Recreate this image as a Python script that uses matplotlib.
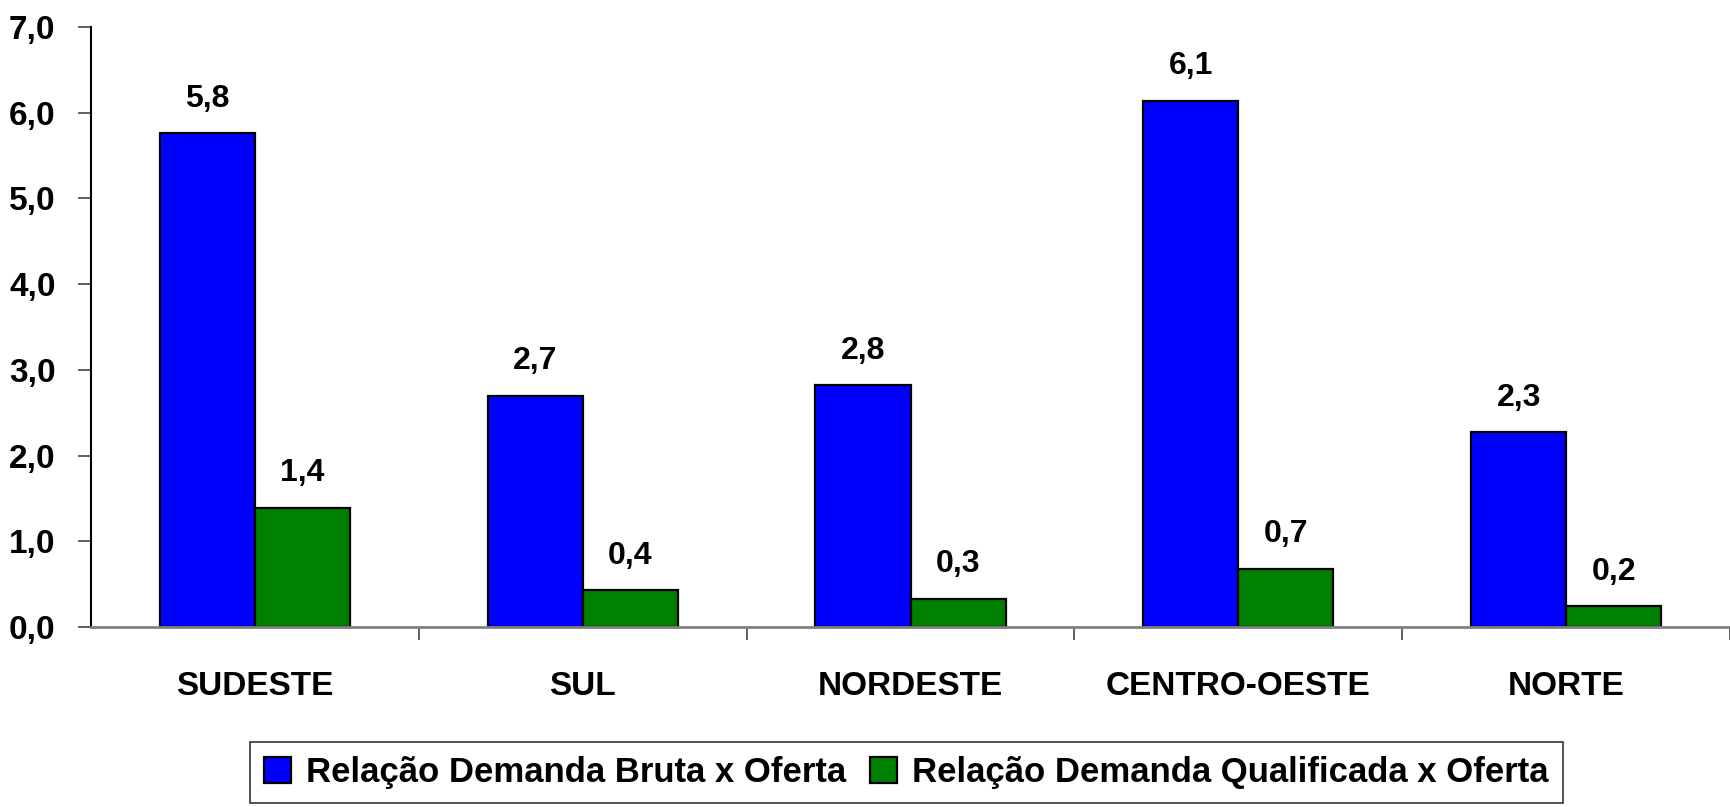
import matplotlib
matplotlib.use("Agg")
import matplotlib.pyplot as plt
import numpy as np

regioes = ["SUDESTE", "SUL", "NORDESTE", "CENTRO-OESTE", "NORTE"]
demanda_bruta = [5.76, 2.70, 2.82, 6.14, 2.27]
demanda_qualificada = [1.39, 0.43, 0.33, 0.68, 0.24]
serie_nomes = ["Relação Demanda Bruta x Oferta", "Relação Demanda Qualificada x Oferta"]
y_ticks = [0, 1, 2, 3, 4, 5, 6, 7]

plt.rcParams['font.family'] = ['Liberation Sans Narrow', 'Liberation Sans', 'DejaVu Sans']
plt.rcParams['font.weight'] = 'bold'


def fmt(v):
    return f"{v:.1f}".replace(".", ",")


fig = plt.figure(figsize=(17.3, 8.07), dpi=100)
ax = fig.add_axes([91 / 1730, 180 / 807, 1 - 91 / 1730, (627 - 27) / 807])

x = np.arange(len(regioes))
w = 0.29
b1 = ax.bar(x - w / 2, demanda_bruta, w, color="#0000FF", edgecolor="black", linewidth=1.6,
            label=serie_nomes[0])
b2 = ax.bar(x + w / 2, demanda_qualificada, w, color="#008000", edgecolor="black", linewidth=1.6,
            label=serie_nomes[1])

for bars, vals in ((b1, demanda_bruta), (b2, demanda_qualificada)):
    for r, v in zip(bars, vals):
        ax.annotate(fmt(v), (r.get_x() + r.get_width() / 2, v), xytext=(0, 19),
                    textcoords="offset points", ha="center", va="baseline",
                    fontsize=23, fontweight="bold")

ax.set_ylim(0, 7)
ax.set_xlim(-0.5, 4.479)
ax.set_yticks(y_ticks)
ax.set_yticklabels([fmt(t) for t in y_ticks], fontsize=24, fontweight="bold")
ax.tick_params(axis="y", length=9.5, width=1.3, color="#555555", pad=16)

ax.set_xticks(x)
ax.set_xticklabels(regioes, fontsize=24, fontweight="bold")
ax.tick_params(axis="x", length=0, pad=32)
ax.set_xticks(np.arange(len(regioes)) + 0.5, minor=True)
ax.tick_params(axis="x", which="minor", length=9.5, width=1.3, color="#555555")

for s in ("top", "right"):
    ax.spines[s].set_visible(False)
ax.spines["left"].set_color("black")
ax.spines["left"].set_linewidth(1.5)
ax.spines["bottom"].set_color("#808080")
ax.spines["bottom"].set_linewidth(2)

leg = fig.legend(loc="upper center", bbox_to_anchor=(0.524, (807 - 742) / 807), ncol=2,
                 fontsize=25, frameon=True, fancybox=False, edgecolor="black",
                 handlelength=0.78, handleheight=0.78, handletextpad=0.43,
                 columnspacing=0.69, borderpad=0.4, borderaxespad=0)
leg.get_frame().set_linewidth(1.2)
for t in leg.get_texts():
    t.set_fontweight("bold")

fig.savefig("out.png", dpi=100)
